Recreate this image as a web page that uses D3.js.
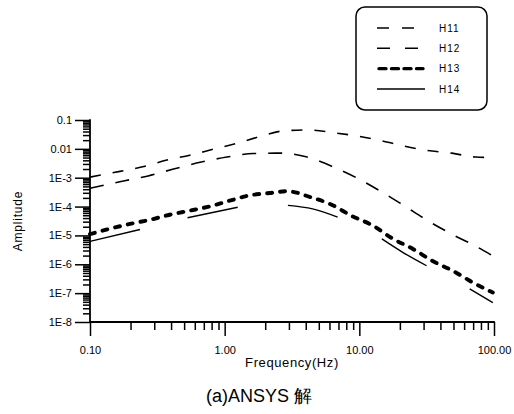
<!DOCTYPE html>
<html><head><meta charset="utf-8">
<script src="https://cdn.jsdelivr.net/npm/d3@7"></script>
<style>body{margin:0;background:#fff}svg{display:block}text{font-family:"Liberation Sans",Arial,sans-serif;fill:#000}</style>
</head><body><svg id="c" width="514" height="414"></svg>
<script>
const h11Freq = [0.1,0.167,0.256,0.373,0.55,0.83,1.23,1.86,2.75,4.2,6.5,9.8,14.7,21.3,31.6,48.7,73,100];
const h11Amp  = [1.05e-3,1.66e-3,2.5e-3,4.1e-3,6.0e-3,9.8e-3,0.0155,0.0275,0.042,0.045,0.036,0.0275,0.019,0.0126,0.0089,0.0071,0.0052,0.005];
const h12Freq = [0.1,0.17,0.27,0.41,0.67,1.04,1.64,2.6,4.1,6.5,9.8,14.7,21.3,32,48.7,72,97];
const h12Amp  = [4.3e-4,7.4e-4,1.15e-3,1.95e-3,3.5e-3,5.2e-3,6.9e-3,7.1e-3,5.2e-3,2.3e-3,9.3e-4,3.2e-4,1.1e-4,3.3e-5,1.1e-5,4.4e-6,2.0e-6];
const h13Freq = [0.1,0.14,0.198,0.28,0.39,0.55,0.78,1.09,1.54,2.17,2.9,4.5,6.0,8.9,12.6,17.8,25,35,49.6,70,98];
const h13Amp  = [1.1e-5,1.7e-5,2.5e-5,3.5e-5,5.2e-5,7.2e-5,1.02e-4,1.6e-4,2.45e-4,2.95e-4,3.4e-4,2.0e-4,1.26e-4,4.6e-5,2.2e-5,7.6e-6,3.4e-6,1.3e-6,5.9e-7,2.3e-7,1.05e-7];
// H14 is drawn as long segments; null marks the breaks
const h14Freq = [0.1,0.235,0.36,0.53,1.25,2.0,2.95,4.5,6.9,10,14.7,21,31.6,45,66,98];
const h14Amp  = [6.2e-6,1.6e-5,null,4.1e-5,9.5e-5,null,1.1e-4,8.3e-5,4.3e-5,null,7.6e-6,2.6e-6,8.9e-7,null,1.4e-7,4.7e-8];
const seriesNames = ["H11","H12","H13","H14"];
const yTickLabels = ["0.1","0.01","1E-3","1E-4","1E-5","1E-6","1E-7","1E-8"];
const xTickLabels = ["0.10","1.00","10.00","100.00"];

const svg = d3.select("#c");
const x = d3.scaleLog().domain([0.1,100]).range([90,494]);
const y = d3.scaleLog().domain([1e-8,0.1]).range([322,120]);

const styles = {
  H11:{w:1.6,dash:"11,12",cap:"butt"},
  H12:{w:1.6,dash:"14,12",cap:"butt"},
  H13:{w:3.9,dash:"5,8",cap:"round"},
  H14:{w:1.4,dash:null,cap:"butt"}
};
const series = [
  {name:"H11",f:h11Freq,a:h11Amp},
  {name:"H12",f:h12Freq,a:h12Amp},
  {name:"H13",f:h13Freq,a:h13Amp},
  {name:"H14",f:h14Freq,a:h14Amp}
];
const line = d3.line().defined(d=>d[1]!=null).x(d=>x(d[0])).y(d=>y(d[1])).curve(d3.curveMonotoneX);
series.forEach(s=>{
  const st = styles[s.name];
  svg.append("path").datum(s.f.map((f,i)=>[f,s.a[i]]))
    .attr("d",line).attr("fill","none").attr("stroke","#000")
    .attr("stroke-width",st.w).attr("stroke-linecap",st.cap)
    .attr("stroke-dasharray",st.dash);
});

// axes
const majorX = [0.1,1,10,100];
const minorX = [];
for (let d=0.1; d<100; d*=10) for (let k=2;k<=9;k++) minorX.push(+(d*k).toPrecision(3));
const majorY = [0.1,0.01,1e-3,1e-4,1e-5,1e-6,1e-7,1e-8];
const minorY = [];
for (let e=-8;e<-1;e++) for (let k=2;k<=9;k++) minorY.push(k*Math.pow(10,e));

const gx = svg.append("g").attr("transform","translate(0,322)");
gx.call(d3.axisBottom(x).tickValues(minorX).tickSize(8).tickFormat(""));
const gx2 = svg.append("g").attr("transform","translate(0,322)")
  .call(d3.axisBottom(x).tickValues(majorX).tickSize(14).tickSizeOuter(0).tickPadding(10)
  .tickFormat((d,i)=>xTickLabels[i]));
gx2.selectAll("text").attr("font-size",11).attr("font-family","Liberation Sans, Arial");
const gy = svg.append("g").attr("transform","translate(90,0)");
gy.call(d3.axisLeft(y).tickValues(minorY).tickSize(7).tickFormat(""));
const gy2 = svg.append("g").attr("transform","translate(90,0)")
  .call(d3.axisLeft(y).tickValues(majorY).tickSize(15).tickSizeOuter(0).tickPadding(3)
  .tickFormat((d,i)=>yTickLabels[i]));
gy2.selectAll("text").attr("font-size",11).attr("font-family","Liberation Sans, Arial");
svg.selectAll(".domain").remove();
svg.selectAll(".tick line").attr("stroke","#000").attr("stroke-width",1.5);
// axis lines
svg.append("path")
  .attr("d",`M${x(0.1)},${y(0.1)-0.8}V${y(1e-8)}H${x(100)+0.8}`)
  .attr("fill","none").attr("stroke","#000").attr("stroke-width",1.8);

// labels
svg.append("text").attr("x",292).attr("y",367).attr("text-anchor","middle")
  .attr("font-size",13).attr("letter-spacing",0.6).text("Frequency(Hz)");
svg.append("text").attr("transform","translate(22,221) rotate(-90)").attr("text-anchor","middle")
  .attr("font-size",12).attr("letter-spacing",0.8).text("Amplitude");
svg.append("text").attr("x",259).attr("y",402).attr("text-anchor","middle")
  .attr("font-size",18).text("(a)ANSYS 解");

// legend
const lg = svg.append("g");
lg.append("rect").attr("x",356).attr("y",7).attr("width",131).attr("height",103)
  .attr("rx",9).attr("fill","#fff").attr("stroke","#000").attr("stroke-width",1.5);
const rowY = d3.scalePoint().domain(seriesNames).range([28,89]);
seriesNames.forEach(n=>{
  const st = styles[n];
  const ly = rowY(n);
  const legDash = {H11:"12,13",H12:"13,15",H13:"7,5.5",H14:null}[n];
  lg.append("line").attr("x1",n==="H13"?379:377).attr("x2",n==="H13"?423:425).attr("y1",ly).attr("y2",ly)
    .attr("stroke","#000").attr("stroke-width",n==="H13"?3.4:1.5)
    .attr("stroke-linecap",st.cap).attr("stroke-dasharray",legDash);
  lg.append("text").attr("x",439).attr("y",ly+3.5).attr("font-size",10).attr("letter-spacing",1).text(n);
});
</script></body></html>
